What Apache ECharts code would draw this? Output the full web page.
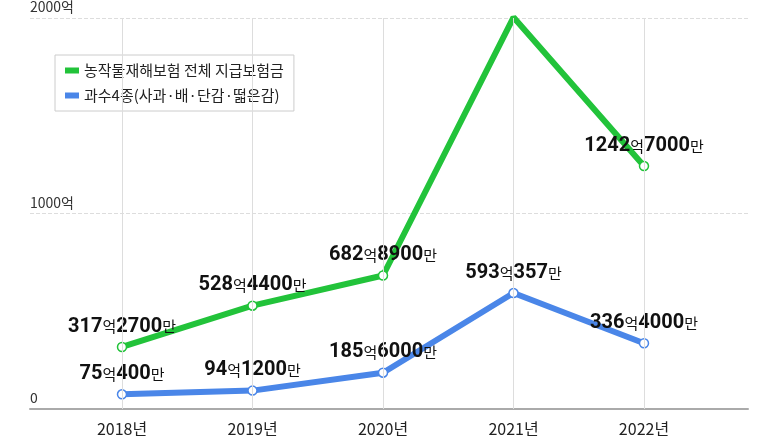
<!DOCTYPE html><html><head><meta charset="utf-8"><script src="https://cdn.jsdelivr.net/npm/echarts@6/dist/echarts.min.js"></script>
<style>body{margin:0}#c{width:777px;height:437px}</style></head><body><div id="c"></div><script>
const years=['2018년','2019년','2020년','2021년','2022년'];
const totalVals=[317.27,528.44,682.89,2003.43,1242.70];
const totalLabels=['317억2700만','528억4400만','682억8900만','2003억4300만','1242억7000만'];
const fruitVals=[75.04,94.12,185.60,593.0357,336.40];
const fruitLabels=['75억400만','94억1200만','185억6000만','593억357만','336억4000만'];
const yTicks={0:'0',1000:'1000억',2000:'2000억'};
const fmt=s=>s.replace(/(\d+)/g,'{n|$1}').replace(/([억만])/g,'{k|$1}');
const rich={n:{fontSize:20,fontWeight:'bold',color:'#111',fontFamily:'Roboto'},k:{fontSize:15,color:'#111',fontFamily:'Noto Sans CJK KR'}};
const G='#22c33a',B='#4a86e8';
const mk=(vals,labs,name,color)=>({type:'line',name,data:vals.map((v,i)=>[i,v]),lineStyle:{width:6,color},itemStyle:{color:'#fff',borderColor:color,borderWidth:1.5},
 symbol:'circle',symbolSize:9,z:3,label:{show:true,position:'top',distance:5,formatter:p=>fmt(labs[p.dataIndex]),rich}});
const c=echarts.init(document.getElementById('c'));
const s1=mk(totalVals,totalLabels,'농작물재해보험 전체 지급보험금',G);
s1.markLine={symbol:'none',silent:true,label:{show:false},lineStyle:{color:'#ddd',type:'solid',width:1},data:years.map((y,i)=>({xAxis:i}))};
c.setOption({animation:false,
grid:{left:30,right:29,top:13,bottom:17},
legend:{left:55,top:55,orient:'vertical',itemGap:10,padding:[8,10],borderColor:'#ccc',borderWidth:1,backgroundColor:'#fff',icon:'rect',itemWidth:14,itemHeight:6,
 data:[{name:'농작물재해보험 전체 지급보험금',itemStyle:{color:G,borderWidth:0}},{name:'과수4종(사과·배·단감·떫은감)',itemStyle:{color:B,borderWidth:0}}],
 textStyle:{fontSize:15,color:'#222',fontFamily:'Noto Sans CJK KR'}},
xAxis:{type:'value',min:-0.705,max:4.797,splitLine:{show:false},axisLine:{show:true,lineStyle:{color:'#aaa',width:2}},axisTick:{show:false},
 axisLabel:{customValues:[0,1,2,3,4],formatter:v=>years[Math.round(v)],fontSize:16,color:'#222',margin:12,fontFamily:'Noto Sans CJK KR'}},
yAxis:{type:'value',min:0,max:2000,interval:1000,axisLine:{show:false},axisTick:{show:false},
 splitLine:{lineStyle:{color:'#ddd',type:'dashed'}},
 axisLabel:{inside:true,verticalAlign:'bottom',margin:0,formatter:v=>yTicks[v],fontSize:14,color:'#333',fontFamily:'Noto Sans CJK KR',padding:[0,0,4,0]}},
series:[s1,mk(fruitVals,fruitLabels,'과수4종(사과·배·단감·떫은감)',B)]});
</script></body></html>
